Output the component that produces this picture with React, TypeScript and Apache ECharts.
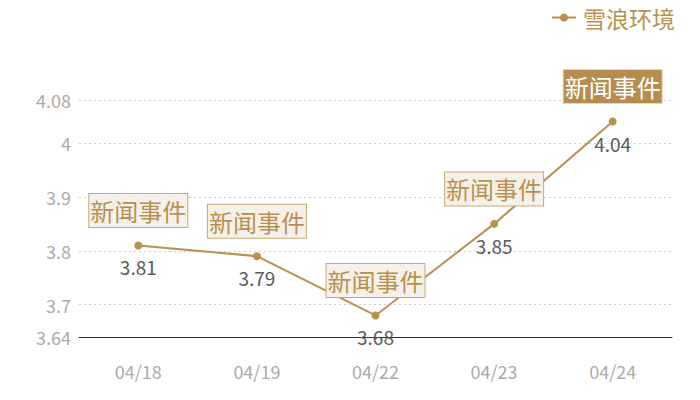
import React, { useEffect, useRef } from 'react';
import * as echarts from 'echarts';

// Chart data
const dates = ['04/18', '04/19', '04/22', '04/23', '04/24'];
const prices = [3.81, 3.79, 3.68, 3.85, 4.04];
const yTicks = [3.64, 3.7, 3.8, 3.9, 4, 4.08];
const eventLabel = '新闻事件';
const highlightIndex = 4; // the filled (selected) event box
const seriesName = '雪浪环境';

const GOLD = '#b8914f';
const FONT = '"Noto Sans CJK SC", "Noto Sans", sans-serif';

const App: React.FC = () => {
  const chartRef = useRef<HTMLDivElement>(null);

  useEffect(() => {
    if (!chartRef.current) return;
    const chart = echarts.init(chartRef.current, undefined, { renderer: 'svg' });

    // Event boxes above each point
    const markData = dates.map((d, i) => {
      const selected = i === highlightIndex;
      return {
        coord: [d, prices[i]],
        value: eventLabel,
        label: {
          backgroundColor: selected ? '#b58d50' : '#f5f0ea',
          borderColor: selected ? '#e6d5b8' : '#c9a772',
          color: selected ? '#ffffff' : GOLD,
        },
      };
    });

    const option: echarts.EChartsOption = {
      animation: false,
      textStyle: { fontFamily: FONT },
      legend: {
        right: 25,
        top: 6,
        padding: 0,
        itemWidth: 24,
        itemHeight: 10,
        itemGap: 7,
        textStyle: { color: GOLD, fontSize: 23, fontFamily: FONT, padding: [0, 0, 0, 2] },
        data: [seriesName],
      },
      grid: { left: 79, right: 28, top: 100, bottom: 63 },
      xAxis: {
        type: 'category',
        data: dates,
        boundaryGap: true,
        axisLine: { lineStyle: { color: '#333', width: 1 } },
        axisTick: { show: false },
        axisLabel: { color: '#aaa', fontSize: 18, margin: 25, fontFamily: FONT },
      },
      yAxis: {
        type: 'value',
        min: 3.64,
        max: 4.08,
        axisLine: { show: false },
        axisTick: { show: false, customValues: yTicks },
        axisLabel: { color: '#aaa', fontSize: 18, margin: 8, fontFamily: FONT, customValues: yTicks },
        splitLine: { lineStyle: { color: '#ccc', type: [2, 3] } },
      },
      series: [
        {
          name: seriesName,
          type: 'line',
          data: prices,
          symbol: 'circle',
          symbolSize: 8,
          itemStyle: { color: GOLD },
          lineStyle: { color: GOLD, width: 2 },
          label: {
            show: true,
            position: 'bottom',
            distance: 8,
            color: '#5a5a5a',
            fontSize: 19,
            fontFamily: FONT,
          },
          markPoint: {
            symbol: 'rect',
            symbolSize: 0,
            label: {
              show: true,
              formatter: eventLabel,
              fontSize: 24,
              lineHeight: 30,
              fontFamily: FONT,
              borderWidth: 1,
              padding: [2, 1, 1, 1],
              offset: [0, -35],
            },
            data: markData as any,
          },
        },
      ],
    };

    chart.setOption(option);
    return () => chart.dispose();
  }, []);

  return (
    <div
      ref={chartRef}
      style={{ position: 'absolute', left: 0, top: 0, width: 700, height: 400 }}
    />
  );
};

export default App;
